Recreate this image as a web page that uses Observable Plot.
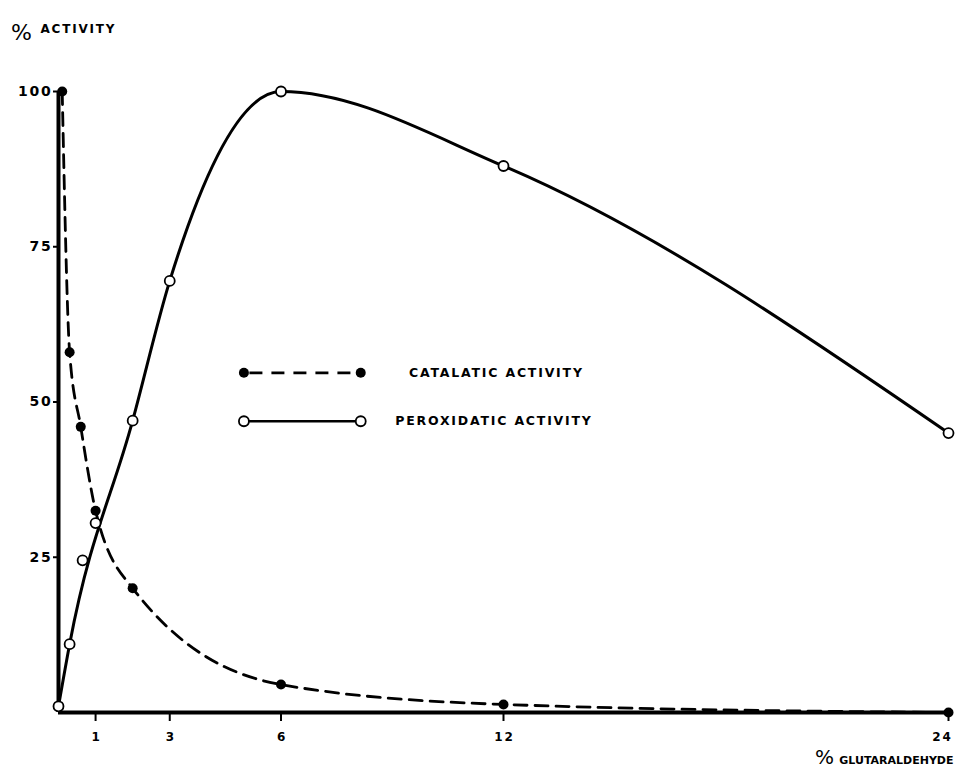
<!DOCTYPE html>
<html>
<head>
<meta charset="utf-8">
<script src="https://cdn.jsdelivr.net/npm/d3@7"></script>
<script src="https://cdn.jsdelivr.net/npm/@observablehq/plot@0.6"></script>
<style>
  html, body { margin: 0; padding: 0; background: #fff; }
</style>
</head>
<body>
<div id="chart"></div>
<script>
// ---- Data ----
const catalaticX = [0.1, 0.3, 0.6, 1, 2, 6, 12, 24];
const catalaticY = [100, 58, 46, 32.5, 20, 4.5, 1.3, 0];

const peroxidaticX = [0, 0.3, 0.65, 1, 2, 3, 6, 12, 24];
const peroxidaticY = [1, 11, 24.5, 30.5, 47, 69.5, 100, 88, 45];
// points that the hand-drawn curve passes through (0.65 % and 1 % lie beside it)
const peroxidaticOnCurve = [true, true, false, false, true, true, true, true, true];

const xTicks = [1, 3, 6, 12, 24];
const yTicks = [25, 50, 75, 100];

const seriesNames = ["CATALATIC ACTIVITY", "PEROXIDATIC ACTIVITY"];
const xTitle = "GLUTARALDEHYDE";
const yTitle = "ACTIVITY";

// ---- Build tables ----
const catalatic = catalaticX.map((x, i) => ({x, y: catalaticY[i]}));
const peroxidatic = peroxidaticX.map((x, i) => ({x, y: peroxidaticY[i], onCurve: peroxidaticOnCurve[i]}));
const peroxidaticCurve = peroxidatic.filter(d => d.onCurve);

// legend layout (in data units, it sits inside the plot area)
const legendLayout = {
  x1: 5.0, x2: 8.15,
  rows: [
    {name: seriesNames[0], y: 54.7, textX: 9.45},
    {name: seriesNames[1], y: 46.9, textX: 9.08}
  ]
};
const legendLines = legendLayout.rows.map(r => ({x1: legendLayout.x1, x2: legendLayout.x2, y: r.y, name: r.name}));
const legendDots = legendLayout.rows.flatMap(r => [{x: legendLayout.x1, y: r.y, name: r.name}, {x: legendLayout.x2, y: r.y, name: r.name}]);

const FONT = "'DejaVu Sans', 'Liberation Sans', sans-serif";

const chart = Plot.plot({
  width: 956,
  height: 776,
  marginLeft: 58,
  marginRight: 8,
  marginTop: 91,
  marginBottom: 64,
  style: {fontFamily: FONT, fontWeight: "bold", letterSpacing: "1.8px", color: "#000", background: "#fff", overflow: "visible"},
  x: {domain: [0, 24], axis: null},
  y: {domain: [0, 100], axis: null},
  marks: [
    // axes lines
    Plot.ruleY([0], {stroke: "#000", strokeWidth: 4}),
    Plot.ruleX([0], {y1: 0, y2: 100, stroke: "#000", strokeWidth: 4}),
    Plot.axisX(xTicks, {tickSize: 9, strokeWidth: 2, tickFormat: () => "", label: null}),
    Plot.axisX(xTicks.slice(0, -1), {tickSize: 0, tickPadding: 20, fontSize: 12, label: null, dx: 1}),
    Plot.axisX(xTicks.slice(-1), {tickSize: 0, tickPadding: 20, fontSize: 12, label: null, dx: -6}),
    Plot.axisY(yTicks, {tickSize: 5, tickPadding: 1, fontSize: 14, strokeWidth: 2, label: null}),

    // catalatic activity (dashed, filled dots)
    Plot.line(catalatic, {x: "x", y: "y", curve: "monotone-x", stroke: "#000", strokeWidth: 2.8, strokeDasharray: "13,8"}),
    Plot.dot(catalatic, {x: "x", y: "y", r: 5, fill: "#000", stroke: "none"}),

    // peroxidatic activity (solid, open dots)
    Plot.line(peroxidaticCurve, {x: "x", y: "y", curve: "monotone-x", stroke: "#000", strokeWidth: 3}),
    Plot.dot(peroxidatic, {x: "x", y: "y", r: 5, fill: "#fff", stroke: "#000", strokeWidth: 1.8}),

    // legend
    Plot.ruleY(legendLines.filter(d => d.name === seriesNames[0]), {x1: "x1", x2: "x2", y: "y", stroke: "#000", strokeWidth: 2.8, strokeDasharray: "13,9", strokeDashoffset: -6}),
    Plot.ruleY(legendLines.filter(d => d.name === seriesNames[1]), {x1: "x1", x2: "x2", y: "y", stroke: "#000", strokeWidth: 2.5}),
    Plot.dot(legendDots.filter(d => d.name === seriesNames[0]), {x: "x", y: "y", r: 5, fill: "#000"}),
    Plot.dot(legendDots.filter(d => d.name === seriesNames[1]), {x: "x", y: "y", r: 5, fill: "#fff", stroke: "#000", strokeWidth: 1.8}),
    Plot.text(legendLayout.rows, {x: "textX", y: "y", text: "name", textAnchor: "start", fontSize: 12.5, fill: "#000"}),

    // axis titles
    Plot.text(["%"], {frameAnchor: "top-left", dx: -37, dy: -67, fontSize: 22, fontWeight: "normal", textAnchor: "middle", fill: "#000"}),
    Plot.text([yTitle], {frameAnchor: "top-left", dx: -18, dy: -67, fontSize: 12, textAnchor: "start", fill: "#000"}),
    Plot.text(["%"], {frameAnchor: "bottom-right", dx: -124, dy: 51, fontSize: 20, fontWeight: "normal", textAnchor: "middle", fill: "#000"}),
    Plot.text([xTitle], {frameAnchor: "bottom-right", dx: 5, dy: 51, fontSize: 11, textAnchor: "end", fill: "#000"})
  ]
});

// no extra letter spacing for the x-axis title and the percent signs
d3.select(chart).selectAll("text").each(function() {
  const t = this.textContent.trim();
  if (t === xTitle || t === "%") {
    this.setAttribute("letter-spacing", "0");
    this.style.letterSpacing = "0px";
  }
});

document.getElementById("chart").appendChild(chart);
</script>
</body>
</html>
